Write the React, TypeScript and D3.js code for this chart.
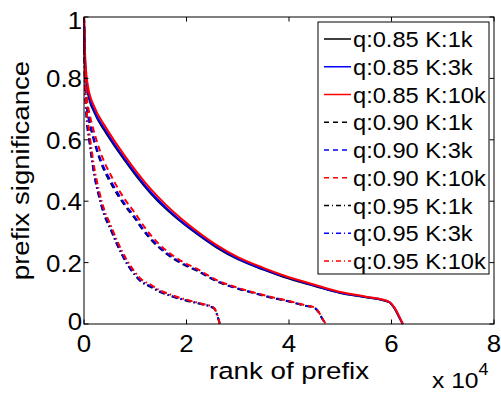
import React from "react";
import * as d3 from "d3";

const W = 501;
const H = 393;
const M = { left: 84, right: 7, top: 17, bottom: 69 };

const xTicks = [0, 20000, 40000, 60000, 80000];
const xTickLabels = ["0", "2", "4", "6", "8"];
const yTicks = [0, 0.2, 0.4, 0.6, 0.8, 1];
const yTickLabels = ["0", "0.2", "0.4", "0.6", "0.8", "1"];

// q = 0.85 (solid)
const rankQ85 = [0, 100, 300, 800, 2000, 4000, 6000, 8000, 10300, 13000, 16000, 19000, 22000, 25900, 30000, 35000, 39000, 45000, 50000, 55000, 59500, 60500, 61500, 62200];
const q85K1k = [1.0, 0.9, 0.82, 0.75, 0.69, 0.63, 0.579, 0.532, 0.48, 0.426, 0.375, 0.332, 0.294, 0.249, 0.211, 0.177, 0.153, 0.124, 0.101, 0.087, 0.071, 0.053, 0.022, 0];
const q85K3k = [1.0, 0.91, 0.83, 0.758, 0.695, 0.636, 0.584, 0.537, 0.485, 0.43, 0.379, 0.335, 0.297, 0.252, 0.213, 0.179, 0.155, 0.125, 0.102, 0.088, 0.072, 0.054, 0.023, 0];
const q85K10k = [1.0, 0.93, 0.85, 0.772, 0.708, 0.647, 0.595, 0.547, 0.495, 0.44, 0.388, 0.343, 0.303, 0.257, 0.218, 0.183, 0.158, 0.128, 0.104, 0.089, 0.073, 0.055, 0.025, 0];

// q = 0.90 (dashed)
const rankQ90 = [0, 200, 500, 1000, 1500, 3100, 5700, 8000, 10000, 11000, 13000, 16000, 19000, 22000, 26000, 30000, 32400, 36000, 40000, 43000, 45000, 45700, 46500, 47200];
const q90K1k = [1.0, 0.82, 0.72, 0.66, 0.625, 0.535, 0.445, 0.385, 0.342, 0.318, 0.276, 0.23, 0.197, 0.174, 0.138, 0.115, 0.104, 0.088, 0.073, 0.06, 0.052, 0.04, 0.017, 0];
const q90K3k = [1.0, 0.83, 0.73, 0.67, 0.632, 0.542, 0.452, 0.39, 0.347, 0.322, 0.28, 0.233, 0.2, 0.176, 0.14, 0.116, 0.105, 0.089, 0.074, 0.061, 0.053, 0.041, 0.017, 0];
const q90K10k = [1.0, 0.85, 0.75, 0.69, 0.655, 0.565, 0.47, 0.405, 0.36, 0.335, 0.29, 0.24, 0.205, 0.18, 0.142, 0.118, 0.106, 0.09, 0.075, 0.062, 0.054, 0.042, 0.018, 0];

// q = 0.95 (dash-dot)
const rankQ95 = [0, 200, 500, 1000, 2000, 3000, 4000, 5000, 6500, 8300, 10000, 11000, 13000, 15000, 17000, 20000, 23000, 25000, 25500, 26000, 26500];
const q95K1k = [1.0, 0.77, 0.67, 0.6, 0.485, 0.41, 0.352, 0.315, 0.257, 0.198, 0.158, 0.14, 0.121, 0.103, 0.091, 0.076, 0.064, 0.054, 0.048, 0.028, 0];
const q95K3k = [1.0, 0.78, 0.68, 0.61, 0.49, 0.415, 0.357, 0.32, 0.26, 0.201, 0.161, 0.142, 0.123, 0.105, 0.092, 0.077, 0.065, 0.055, 0.049, 0.029, 0];
const q95K10k = [1.0, 0.8, 0.7, 0.63, 0.51, 0.43, 0.37, 0.33, 0.27, 0.21, 0.168, 0.148, 0.128, 0.108, 0.095, 0.079, 0.066, 0.056, 0.05, 0.03, 0];

const seriesNames = [
  "q:0.85 K:1k", "q:0.85 K:3k", "q:0.85 K:10k",
  "q:0.90 K:1k", "q:0.90 K:3k", "q:0.90 K:10k",
  "q:0.95 K:1k", "q:0.95 K:3k", "q:0.95 K:10k",
];
const seriesRanks = [rankQ85, rankQ85, rankQ85, rankQ90, rankQ90, rankQ90, rankQ95, rankQ95, rankQ95];
const seriesValues = [q85K1k, q85K3k, q85K10k, q90K1k, q90K3k, q90K10k, q95K1k, q95K3k, q95K10k];

const colors = ["#000000", "#0000ff", "#ff0000"];
const dashes = [null, "6,4", "6,3,1.5,3"];

const FONT = "'Liberation Sans', Arial, Helvetica, sans-serif";

function SText(props: {
  x: number; y: number; size: number; sx: number; anchor?: string; rotate?: number; children: React.ReactNode;
}) {
  const { x, y, size, sx, anchor = "start", rotate = 0, children } = props;
  return (
    <text
      transform={`translate(${x},${y}) rotate(${rotate}) scale(${sx},1)`}
      textAnchor={anchor as any}
      fontFamily={FONT}
      fontSize={size}
      fill="#000"
    >
      {children}
    </text>
  );
}

export default function App() {
  const x = d3.scaleLinear().domain([0, 80000]).range([M.left, W - M.right]);
  const y = d3.scaleLinear().domain([0, 1]).range([H - M.bottom, M.top]);
  const line = d3
    .line<[number, number]>()
    .x((d) => x(d[0]))
    .y((d) => y(d[1]))
    .curve(d3.curveMonotoneX);

  const x0 = x(0), x1 = x(80000), y0 = y(0), y1 = y(1);
  const tickLen = 4.5;

  const legX = 318, legY = 22, legW = 171, legH = 252;
  const rowH = 27.75;

  const yLabelOffset = (t: number) => (t === 0 ? 6 : t === 1 ? 12 : 9);

  return (
    <svg width={W} height={H} style={{ position: "absolute", left: 0, top: 0, background: "#fff" }}>
      <rect x={0} y={0} width={W} height={H} fill="#fff" />
      {/* curves */}
      <g fill="none" strokeWidth={2}>
        {seriesNames.map((name, i) => {
          const pts: [number, number][] = seriesRanks[i].map((r, j) => [r, seriesValues[i][j]]);
          const g = Math.floor(i / 3);
          return (
            <path
              key={name}
              d={line(pts) || ""}
              stroke={colors[i % 3]}
              strokeDasharray={dashes[g] || undefined}
            />
          );
        })}
      </g>
      {/* axes box */}
      <rect x={x0} y={y1} width={x1 - x0} height={y0 - y1} fill="none" stroke="#000" strokeWidth={1} />
      {xTicks.map((t) => (
        <g key={"xt" + t}>
          <line x1={x(t)} x2={x(t)} y1={y0} y2={y0 - tickLen} stroke="#000" />
          <line x1={x(t)} x2={x(t)} y1={y1} y2={y1 + tickLen} stroke="#000" />
        </g>
      ))}
      {yTicks.map((t) => (
        <g key={"yt" + t}>
          <line x1={x0} x2={x0 + tickLen} y1={y(t)} y2={y(t)} stroke="#000" />
          <line x1={x1} x2={x1 - tickLen} y1={y(t)} y2={y(t)} stroke="#000" />
        </g>
      ))}
      {xTicks.map((t, i) => (
        <SText key={"xl" + t} x={x(t)} y={352} size={23.5} sx={1.1} anchor="middle">
          {xTickLabels[i]}
        </SText>
      ))}
      {yTicks.map((t, i) => (
        <SText key={"yl" + t} x={x0 - 2} y={y(t) + yLabelOffset(t)} size={23.5} sx={1.1} anchor="end">
          {yTickLabels[i]}
        </SText>
      ))}
      <SText x={(x0 + x1) / 2} y={379} size={23.5} sx={1.18} anchor="middle">
        rank of prefix
      </SText>
      <SText x={29} y={(y0 + y1) / 2} size={24} sx={1.15} anchor="middle" rotate={-90}>
        prefix significance
      </SText>
      <SText x={432} y={388} size={22} sx={1.12}>
        x 10
        <tspan fontSize={16} dy={-13}>4</tspan>
      </SText>
      {/* legend */}
      <rect x={legX} y={legY} width={legW} height={legH} fill="#fff" stroke="#000" strokeWidth={1} />
      {seriesNames.map((name, i) => {
        const cy = 39 + i * rowH;
        const g = Math.floor(i / 3);
        return (
          <g key={"lg" + name}>
            <line
              x1={324}
              x2={351}
              y1={cy}
              y2={cy}
              stroke={colors[i % 3]}
              strokeWidth={1.5}
              strokeDasharray={dashes[g] ? (g === 1 ? "5,4" : "5,3,1,3") : undefined}
            />
            <SText x={353} y={cy + 8} size={21.5} sx={1.1}>
              {name}
            </SText>
          </g>
        );
      })}
    </svg>
  );
}
